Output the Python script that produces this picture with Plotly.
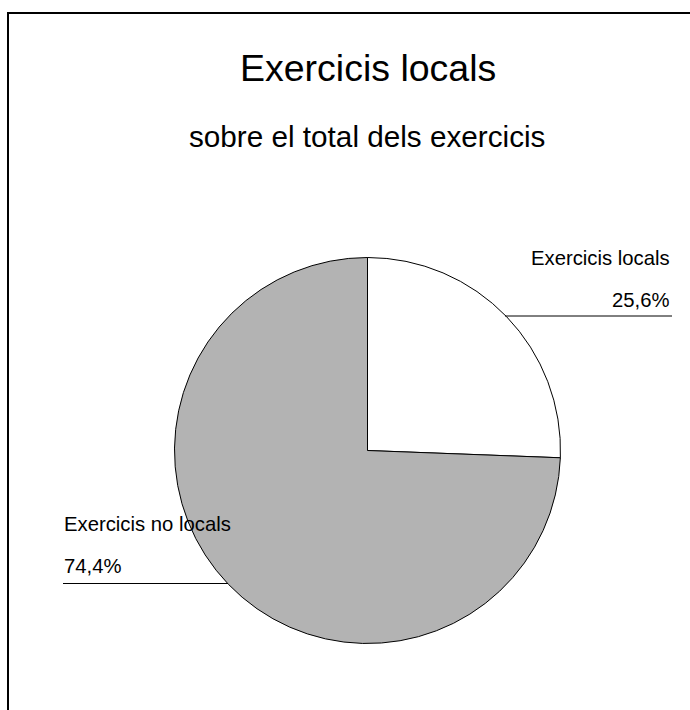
import plotly.graph_objects as go

# Share of local exercises over all exercises
categories = ["Exercicis locals", "Exercicis no locals"]
values = [25.6, 74.4]
value_labels = ["25,6%", "74,4%"]
slice_colors = ["#ffffff", "#b3b3b3"]

W, H = 690, 710

# Pie geometry in pixels
cx, cy, r = 367.5, 450.5, 193.0


def px(x):
    return x / W


def py(y):
    return 1 - y / H


fig = go.Figure(
    go.Pie(
        labels=categories,
        values=values,
        sort=False,
        direction="clockwise",
        rotation=0,
        marker=dict(colors=slice_colors, line=dict(color="#000000", width=1)),
        textinfo="none",
        hoverinfo="label+percent",
        showlegend=False,
        domain=dict(x=[px(cx - r), px(cx + r)], y=[py(cy + r), py(cy - r)]),
    )
)

font_family = "Liberation Sans, Arial, sans-serif"
label_size = 20.3
annotations = [
    dict(text="Exercicis locals", x=px(368), y=py(68), font=dict(size=37.5)),
    dict(text="sobre el total dels exercicis", x=px(367), y=py(137), font=dict(size=29.7)),
    # right label
    dict(text=categories[0], x=px(672), y=py(257.5), xanchor="right", font=dict(size=label_size)),
    dict(text=value_labels[0], x=px(672), y=py(299.5), xanchor="right", font=dict(size=label_size)),
    # left label
    dict(text=categories[1], x=px(62), y=py(524), xanchor="left", font=dict(size=label_size)),
    dict(text=value_labels[1], x=px(62), y=py(566), xanchor="left", font=dict(size=label_size)),
]
for a in annotations:
    a.setdefault("xanchor", "center")
    a["yanchor"] = "middle"
    a["xref"] = "paper"
    a["yref"] = "paper"
    a["showarrow"] = False
    a["font"]["family"] = font_family
    a["font"]["color"] = "#000000"

shapes = [
    # outer frame
    dict(type="rect", xref="paper", yref="paper",
         x0=px(8), x1=px(720), y0=py(740), y1=py(13),
         line=dict(color="#000000", width=2)),
    # leader lines
    dict(type="line", xref="paper", yref="paper",
         x0=px(505), x1=px(672), y0=py(316), y1=py(316),
         line=dict(color="#000000", width=1)),
    dict(type="line", xref="paper", yref="paper",
         x0=px(63), x1=px(228), y0=py(583.5), y1=py(583.5),
         line=dict(color="#000000", width=1)),
]

fig.update_layout(
    width=W,
    height=H,
    margin=dict(l=0, r=0, t=0, b=0),
    paper_bgcolor="#ffffff",
    plot_bgcolor="#ffffff",
    annotations=annotations,
    shapes=shapes,
)

fig.write_html("out.html")
